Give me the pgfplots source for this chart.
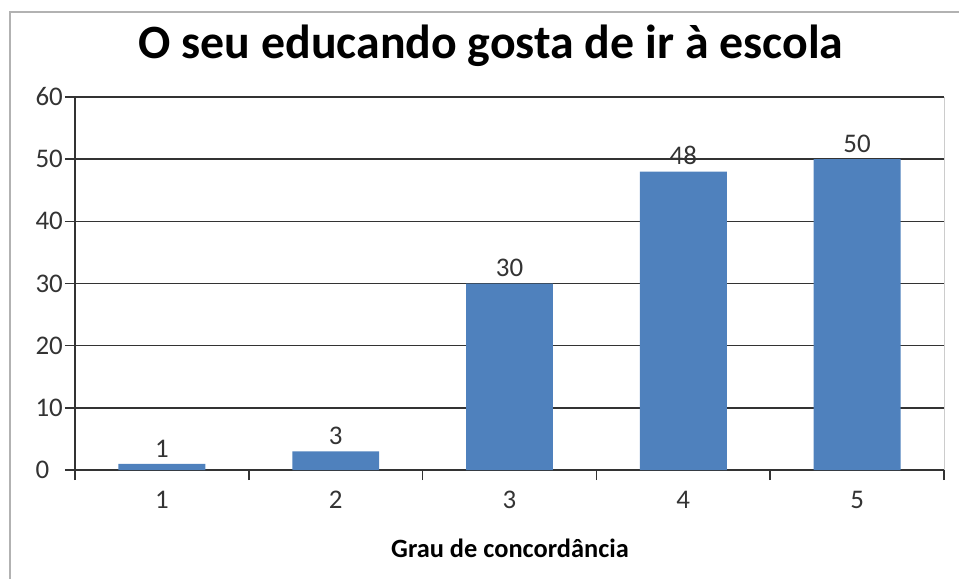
\documentclass[border=0pt]{standalone}
\usepackage{fontspec}
\setmainfont{Carlito}
\usepackage{pgfplots}
\pgfplotsset{compat=1.18}
\definecolor{barblue}{HTML}{4F81BD}
\definecolor{txt}{HTML}{333333}
\begin{document}
\begin{tikzpicture}
\useasboundingbox (-75bp,-109bp) rectangle (884bp,470bp);
\draw[gray!60, line width=1.5bp] (-65bp,-110bp) -- (-65bp,458bp) -- (885bp,458bp);
\begin{axis}[
  at={(0,0)}, anchor=south west,
  scale only axis, width=869bp, height=373bp,
  xmin=0.5, xmax=5.5, ymin=0, ymax=60,
  axis x line*=bottom, axis y line*=left,
  axis line style={-, black!80, line width=1.6bp},
  ytick={0,10,...,60},
  yticklabels={0\phantom{0},10,20,30,40,50,60},
  xtick={1,2,3,4,5},
  minor xtick={0.5,1.5,...,5.5},
  tick align=outside,
  major x tick style={draw=none},
  minor x tick style={black!80, line width=1.6bp},
  minor tick length=10bp,
  major tick length=10bp,
  y tick style={black!80, line width=1.6bp},
  ymajorgrids,
  grid style={black!80, line width=1.6bp},
  tick label style={font=\fontsize{27}{30}\selectfont, text=txt},
  /pgf/number format/assume math mode=true,
  xticklabel style={yshift=-8bp},
  yticklabel style={inner xsep=2bp},
  ybar, bar width=0.5,
  nodes near coords,
  every node near coord/.style={font=\fontsize{27}{30}\selectfont, text=txt, yshift=3bp},
  clip=false,
]
\addplot[fill=barblue, draw=none] coordinates {(1,1) (2,3) (3,30) (4,48) (5,50)};
\draw[gray!40, line width=1bp] (rel axis cs:1,0) -- (rel axis cs:1,1);
\end{axis}
\node[font=\bfseries\fontsize{48}{54}\selectfont, text=black] at (416bp,424bp) {O seu educando gosta de ir à escola};
\node[font=\bfseries\fontsize{26.5}{30}\selectfont, text=black] at (435bp,-78bp) {Grau de concordância};
\end{tikzpicture}
\end{document}
